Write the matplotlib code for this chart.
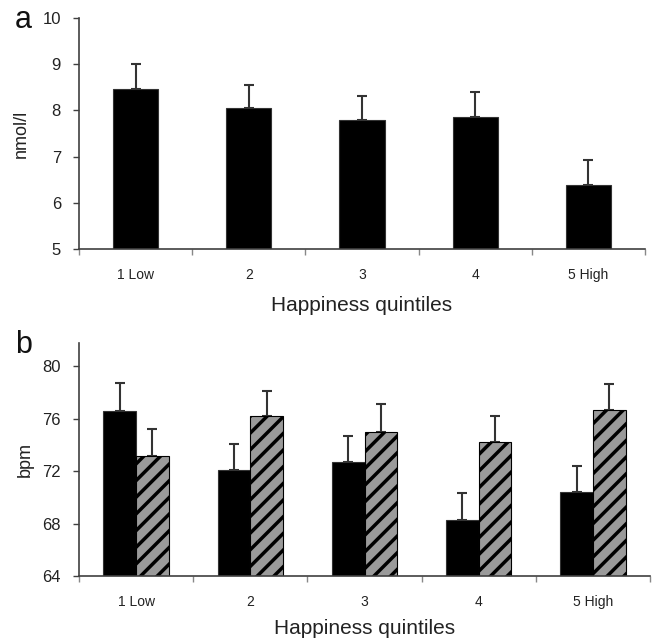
import matplotlib
matplotlib.use("Agg")
import matplotlib.pyplot as plt
import numpy as np

plt.rcParams['font.family'] = ['Liberation Sans', 'DejaVu Sans']
plt.rcParams['hatch.linewidth'] = 2.5
plt.rcParams['hatch.color'] = 'black'

categories = ["1 Low", "2", "3", "4", "5 High"]

# Panel a: cortisol (nmol/l)
a_means = [8.46, 8.05, 7.80, 7.86, 6.39]
a_errs = [0.54, 0.50, 0.52, 0.54, 0.53]

# Panel b: heart rate (bpm)
b_black = [76.6, 72.1, 72.7, 68.3, 70.4]
b_black_err = [2.1, 2.0, 2.0, 2.0, 2.0]
b_hatch = [73.15, 76.2, 75.0, 74.25, 76.65]
b_hatch_err = [2.05, 1.9, 2.1, 1.95, 2.0]

W, H = 655, 639
fig = plt.figure(figsize=(W / 100, H / 100), dpi=100)

spine_c = '#404040'

def style(ax, ylim, yticks, xlabelpad):
    ax.set_xlim(-0.5, len(categories) - 0.5)
    ax.set_ylim(*ylim)
    ax.set_yticks(yticks)
    for s in ['top', 'right']:
        ax.spines[s].set_visible(False)
    for s in ['left', 'bottom']:
        ax.spines[s].set_color(spine_c)
        ax.spines[s].set_linewidth(1.2)
    x = np.arange(len(categories))
    ax.set_xticks(x)
    ax.set_xticklabels(categories, fontsize=10, color='#222222')
    ax.tick_params(axis='x', which='major', length=0, pad=14)
    ax.set_xticks(np.arange(len(categories) + 1) - 0.5, minor=True)
    ax.tick_params(axis='x', which='minor', length=4, width=1, color='#888888', direction='out')
    ax.tick_params(axis='y', which='major', length=4, width=1, color=spine_c,
                   labelsize=12, pad=9, labelcolor='#222222')
    ax.set_xlabel("Happiness quintiles", fontsize=15, color='#222222', labelpad=xlabelpad)

# Panel a
ax1 = fig.add_axes([79 / W, 1 - 249 / H, (645 - 79) / W, (249 - 18) / H])
x = np.arange(len(categories))
ax1.bar(x, a_means, width=0.4, color='black', edgecolor='#333333', linewidth=0.8, zorder=2)
ax1.errorbar(x, a_means, yerr=[np.zeros(len(a_errs)), a_errs], fmt='none',
             ecolor='#333333', elinewidth=1.5, capsize=3.5, capthick=1.5, zorder=1)
style(ax1, (5, 10), [5, 6, 7, 8, 9, 10], 10)
ax1.set_ylabel("nmol/l", fontsize=13, color='#222222', labelpad=9)
fig.text(15 / W, 1 - 20 / H, "a", fontsize=22, ha='left', va='center', color='#111111')

# Panel b
ax2 = fig.add_axes([79 / W, 1 - 576 / H, (650 - 79) / W, (576 - 342.7) / H])
bw = 0.287
ax2.bar(x - bw / 2, b_black, width=bw, color='black', edgecolor='#333333', linewidth=0.8, zorder=2)
ax2.bar(x + bw / 2, b_hatch, width=bw, color='#9a9a9a', edgecolor='black', hatch='//',
        linewidth=0.8, zorder=2)
ax2.errorbar(x - bw / 2, b_black, yerr=[np.zeros(5), b_black_err], fmt='none',
             ecolor='#333333', elinewidth=1.5, capsize=3.5, capthick=1.5, zorder=1)
ax2.errorbar(x + bw / 2, b_hatch, yerr=[np.zeros(5), b_hatch_err], fmt='none',
             ecolor='#333333', elinewidth=1.5, capsize=3.5, capthick=1.5, zorder=1)
style(ax2, (64, 81.8), [64, 68, 72, 76, 80], 7)
ax2.set_ylabel("bpm", fontsize=13, color='#222222', labelpad=6)
fig.text(15 / W, 1 - 345 / H, "b", fontsize=22, ha='left', va='center', color='#111111')

fig.savefig("out.png", dpi=100)
